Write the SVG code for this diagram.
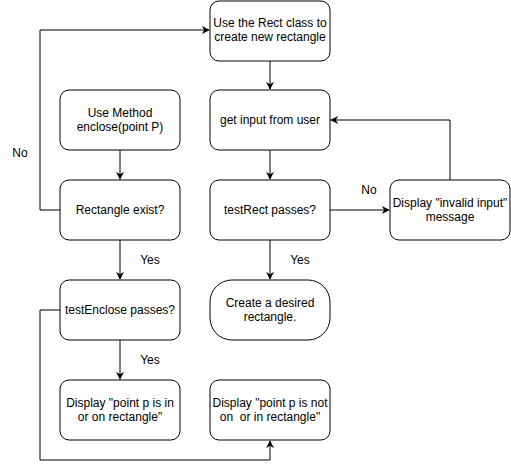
<svg xmlns="http://www.w3.org/2000/svg" width="511" height="470" viewBox="0 0 511 470">
<defs>
<marker id="arr" viewBox="0 0 10 10" refX="9" refY="5" markerWidth="8" markerHeight="8" markerUnits="userSpaceOnUse" orient="auto">
<path d="M0,0 L10,5 L0,10 L3,5 Z" fill="#000"/>
</marker>
<style>
.box{fill:#fff;stroke:#000;stroke-width:1}
.t{font-family:"Liberation Sans",Arial,sans-serif;font-size:12px;fill:#000;text-anchor:middle}
.lbl{font-family:"Liberation Sans",Arial,sans-serif;font-size:12px;fill:#000;text-anchor:middle}
.c{fill:none;stroke:#000;stroke-width:1;marker-end:url(#arr)}
</style>
</defs>
<rect width="511" height="470" fill="#fff"/>
<g id="connectors">
<path class="c" d="M60,210 H40 V30 H209"/>
<path class="c" d="M270,61 V89"/>
<path class="c" d="M120,150 V179"/>
<path class="c" d="M270,150 V179"/>
<path class="c" d="M330,210 H389"/>
<path class="c" d="M450,180 V120 H331"/>
<path class="c" d="M120,240 V279"/>
<path class="c" d="M270,240 V279"/>
<path class="c" d="M120,340 V379"/>
<path class="c" d="M60,310 H40 V460 H270 V441"/>
<text class="lbl" x="20" y="157">No</text>
<text class="lbl" x="369" y="194">No</text>
<text class="lbl" x="150" y="264">Yes</text>
<text class="lbl" x="300" y="264">Yes</text>
<text class="lbl" x="150" y="364">Yes</text>
</g>
<g id="n-rectclass">
<rect class="box" x="210" y="1" width="120" height="60" rx="9"/>
<text class="t" x="270" y="27">Use the Rect class to</text>
<text class="t" x="270" y="41">create new rectangle</text>
</g>
<g id="n-method">
<rect class="box" x="60" y="90" width="120" height="60" rx="9"/>
<text class="t" x="120" y="117">Use Method</text>
<text class="t" x="120" y="131">enclose(point P)</text>
</g>
<g id="n-input">
<rect class="box" x="210" y="90" width="120" height="60" rx="9"/>
<text class="t" x="270" y="124">get input from user</text>
</g>
<g id="n-exist">
<rect class="box" x="60" y="180" width="120" height="60" rx="9"/>
<text class="t" x="120" y="214">Rectangle exist?</text>
</g>
<g id="n-testrect">
<rect class="box" x="210" y="180" width="120" height="60" rx="9"/>
<text class="t" x="270" y="214">testRect passes?</text>
</g>
<g id="n-invalid">
<rect class="box" x="390" y="180" width="120" height="60" rx="9"/>
<text class="t" x="450" y="207">Display "invalid input"</text>
<text class="t" x="450" y="221">message</text>
</g>
<g id="n-testenclose">
<rect class="box" x="60" y="280" width="120" height="60" rx="9"/>
<text class="t" x="120" y="314">testEnclose passes?</text>
</g>
<g id="n-create">
<rect class="box" x="210" y="280" width="120" height="60" rx="22"/>
<text class="t" x="270" y="307">Create a desired</text>
<text class="t" x="270" y="321">rectangle.</text>
</g>
<g id="n-in">
<rect class="box" x="60" y="380" width="120" height="60" rx="9"/>
<text class="t" x="120" y="407">Display "point p is in</text>
<text class="t" x="120" y="421">or on rectangle"</text>
</g>
<g id="n-notin">
<rect class="box" x="210" y="380" width="120" height="60" rx="9"/>
<text class="t" x="270" y="407">Display "point p is not</text>
<text class="t" x="270" y="421" xml:space="preserve">on  or in rectangle"</text>
</g>
</svg>
